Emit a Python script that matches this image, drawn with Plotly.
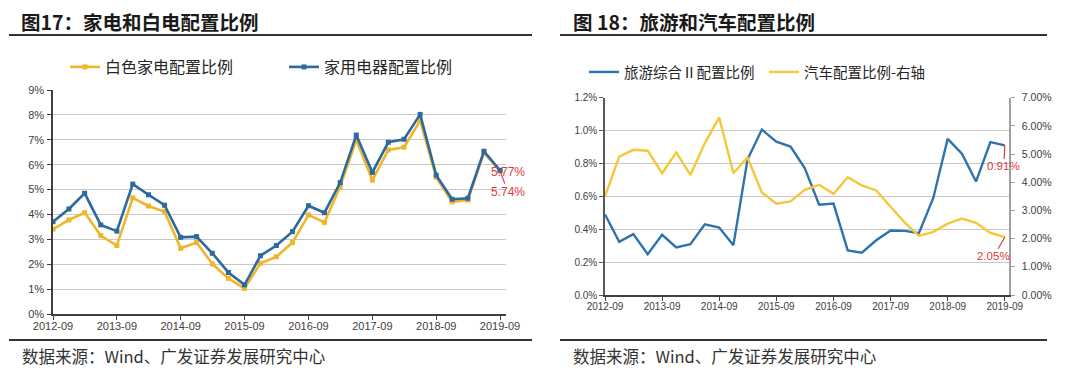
import plotly.graph_objects as go

quarters = ["2012-09", "2012-12", "2013-03", "2013-06", "2013-09", "2013-12", "2014-03", "2014-06",
            "2014-09", "2014-12", "2015-03", "2015-06", "2015-09", "2015-12", "2016-03", "2016-06",
            "2016-09", "2016-12", "2017-03", "2017-06", "2017-09", "2017-12", "2018-03", "2018-06",
            "2018-09", "2018-12", "2019-03", "2019-06", "2019-09"]
year_ticks = ["2012-09", "2013-09", "2014-09", "2015-09", "2016-09", "2017-09", "2018-09", "2019-09"]

appliance = [3.71, 4.22, 4.85, 3.58, 3.33, 5.22, 4.79, 4.37, 3.08, 3.11, 2.44, 1.67, 1.17, 2.34, 2.75,
             3.31, 4.35, 4.07, 5.28, 7.19, 5.69, 6.90, 7.02, 8.02, 5.58, 4.61, 4.65, 6.54, 5.77]
white_goods = [3.41, 3.78, 4.07, 3.15, 2.75, 4.67, 4.34, 4.11, 2.64, 2.87, 2.01, 1.43, 1.03, 2.04, 2.30,
               2.87, 3.98, 3.68, 5.12, 6.99, 5.38, 6.59, 6.70, 7.77, 5.49, 4.51, 4.58, 6.48, 5.74]
tourism = [0.49, 0.323, 0.37, 0.248, 0.366, 0.289, 0.309, 0.43, 0.41, 0.303, 0.824, 1.006, 0.933, 0.903,
           0.772, 0.549, 0.556, 0.271, 0.257, 0.333, 0.392, 0.39, 0.376, 0.59, 0.95, 0.86, 0.69, 0.93, 0.91]
auto = [3.50, 4.91, 5.15, 5.12, 4.32, 5.06, 4.26, 5.38, 6.30, 4.32, 4.88, 3.64, 3.24, 3.32, 3.73, 3.91,
        3.59, 4.18, 3.89, 3.71, 3.13, 2.57, 2.10, 2.24, 2.53, 2.71, 2.56, 2.20, 2.05]

W, H = 1080, 377
def px(x):
    return x / W
def py(y):
    return 1 - y / H

BLUE_L = "#2A6A9E"
YEL_L = "#F0B62B"
BLUE_R = "#2E73AE"
YEL_R = "#F5C73A"
RED = "#E0393E"
TICK = "#404040"
GRID = "#C8C8C8"
CJK = "Noto Sans CJK SC"
LAT = "Liberation Sans, Arial, sans-serif"

fig = go.Figure()

fig.add_trace(go.Scatter(x=quarters, y=white_goods, name="白色家电配置比例", mode="lines+markers",
                         line=dict(color=YEL_L, width=2.6), marker=dict(symbol="square", size=5, color=YEL_L),
                         xaxis="x", yaxis="y", legend="legend"))
fig.add_trace(go.Scatter(x=quarters, y=appliance, name="家用电器配置比例", mode="lines+markers",
                         line=dict(color=BLUE_L, width=2.6), marker=dict(symbol="square", size=5, color=BLUE_L),
                         xaxis="x", yaxis="y", legend="legend"))
fig.add_trace(go.Scatter(x=quarters, y=tourism, name="旅游综合Ⅱ配置比例", mode="lines",
                         line=dict(color=BLUE_R, width=2.4), xaxis="x2", yaxis="y2", legend="legend2"))
fig.add_trace(go.Scatter(x=quarters, y=auto, name="汽车配置比例-右轴", mode="lines",
                         line=dict(color=YEL_R, width=2.4), xaxis="x2", yaxis="y3", legend="legend2"))

common_x = dict(type="date", tickvals=year_ticks, ticktext=year_ticks, showgrid=False, automargin=False,
                showline=True, linecolor="#404040", linewidth=1.5, ticks="outside", ticklen=4,
                tickcolor="#404040", tickfont=dict(family=LAT, size=11, color=TICK), fixedrange=True,
                ticklabelstandoff=-3)

fig.update_layout(
    width=W, height=H, margin=dict(l=0, r=0, t=0, b=0, autoexpand=False),
    paper_bgcolor="white", plot_bgcolor="white",
    showlegend=True,
    xaxis=dict(common_x, domain=[px(53), px(506)], range=["2012-09-01", "2019-10-05"], anchor="y"),
    yaxis=dict(domain=[py(314), py(90)], range=[0, 9], dtick=1, ticksuffix="%", tickformat=".0f",
               showgrid=True, gridcolor=GRID, gridwidth=1.4, zeroline=False, automargin=False,
               showline=True, linecolor="#404040", linewidth=1.5, ticks="outside", ticklen=4,
               tickcolor="#404040", tickfont=dict(family=LAT, size=11, color=TICK), anchor="x",
               ticklabelstandoff=1),
    xaxis2=dict(common_x, domain=[px(605), px(1009)], range=["2012-09-01", "2019-09-28"], anchor="y2",
                tickfont=dict(family=LAT, size=10, color=TICK)),
    yaxis2=dict(domain=[py(295), py(97.7)], range=[0, 1.2], dtick=0.2, ticksuffix="%", tickformat=".1f",
                showgrid=True, gridcolor=GRID, gridwidth=1.4, zeroline=False, automargin=False,
                showline=True, linecolor="#595959", linewidth=1.5, ticks="outside", ticklen=4,
                tickcolor="#595959", tickfont=dict(family=LAT, size=10, color=TICK), anchor="x2"),
    yaxis3=dict(domain=[py(295), py(97.7)], range=[0, 7], dtick=1, ticksuffix="%", tickformat=".2f",
                overlaying="y2", side="right", anchor="x2", showgrid=False, zeroline=False, automargin=False,
                showline=True, linecolor="#A0A0A0", linewidth=1.5, ticks="outside", ticklen=4,
                tickcolor="#A0A0A0", tickfont=dict(family=LAT, size=10.5, color=TICK),
                ticklabelstandoff=5),
    legend=dict(orientation="h", x=px(65), y=py(67), xanchor="left", yanchor="middle",
                font=dict(family=CJK, size=16, color="#262626"), bgcolor="rgba(0,0,0,0)",
                entrywidth=174, entrywidthmode="pixels", itemclick=False),
    legend2=dict(orientation="h", x=px(584), y=py(72), xanchor="left", yanchor="middle",
                 font=dict(family=CJK, size=14.5, color="#262626"), bgcolor="rgba(0,0,0,0)",
                 entrywidth=135, entrywidthmode="pixels", itemclick=False),
)

# titles
fig.add_annotation(text="<b>图17：家电和白电配置比例</b>", xref="paper", yref="paper", x=px(19), y=py(21),
                   xanchor="left", yanchor="middle", showarrow=False,
                   font=dict(family=CJK, size=19.5, color="#1A1A1A"))
fig.add_annotation(text="<b>图 18：旅游和汽车配置比例</b>", xref="paper", yref="paper", x=px(571), y=py(21),
                   xanchor="left", yanchor="middle", showarrow=False,
                   font=dict(family=CJK, size=19.5, color="#1A1A1A"))
# sources
for sx in (20, 571):
    fig.add_annotation(text="数据来源：Wind、广发证券发展研究中心", xref="paper", yref="paper", x=px(sx), y=py(356),
                       xanchor="left", yanchor="middle", showarrow=False,
                       font=dict(family=CJK, size=16.5, color="#333333"))
# rules
for x0, x1 in ((9, 532), (560, 1047)):
    for yy in (35, 340):
        fig.add_shape(type="line", xref="paper", yref="paper", x0=px(x0), x1=px(x1), y0=py(yy), y1=py(yy),
                      line=dict(color="#333333", width=2.2))

# value labels
fig.add_annotation(x=quarters[-1], y=appliance[-1], xref="x", yref="y", text=f"{appliance[-1]:.2f}%",
                   showarrow=False, xshift=8, yshift=-2, font=dict(family=LAT, size=12, color=RED))
fig.add_annotation(x=quarters[-1], y=white_goods[-1], xref="x", yref="y", text=f"{white_goods[-1]:.2f}%",
                   showarrow=True, arrowhead=0, arrowcolor=RED, arrowwidth=1.2, ax=8, ay=21,
                   font=dict(family=LAT, size=12, color=RED))
fig.add_annotation(x=quarters[-1], y=tourism[-1], xref="x2", yref="y2", text=f"{tourism[-1]:.2f}%",
                   showarrow=True, arrowhead=0, arrowcolor=RED, arrowwidth=1.2, ax=-1, ay=21,
                   font=dict(family=LAT, size=11.5, color=RED))
fig.add_annotation(x=quarters[-1], y=auto[-1], xref="x2", yref="y3", text=f"{auto[-1]:.2f}%",
                   showarrow=True, arrowhead=0, arrowcolor=RED, arrowwidth=1.2, ax=-11, ay=19,
                   font=dict(family=LAT, size=11.5, color=RED))

# the exported page's default body margin would shift the figure by 8 px; remove it
fig.write_html("out.html", config={"displayModeBar": False},
               post_script="document.body.style.margin='0px';")
